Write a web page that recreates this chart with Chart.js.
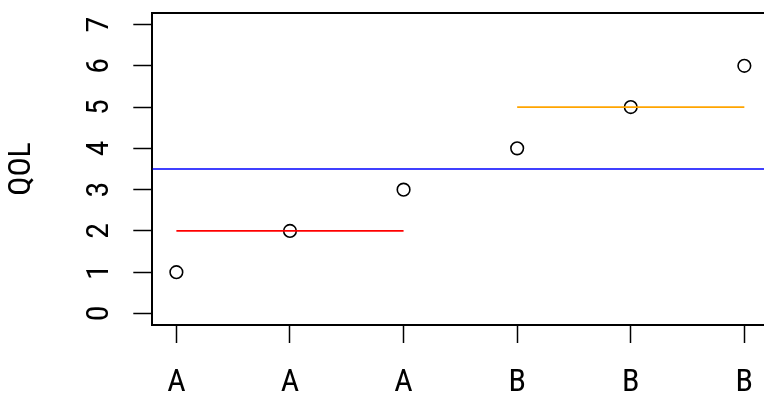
<!DOCTYPE html>
<html>
<head>
<meta charset="utf-8">
<script src="https://cdn.jsdelivr.net/npm/chart.js@4"></script>
<style>
  html, body { margin: 0; padding: 0; background: #fff; overflow: hidden; }
  #myChart { display: block; }
</style>
</head>
<body>
<canvas id="myChart" width="764" height="397"></canvas>
<script>
// data
const groups = ['A', 'A', 'A', 'B', 'B', 'B'];
const positions = [1, 2, 3, 4, 5, 6];
const qol = [1, 2, 3, 4, 5, 6];
const groupStart = [1, 4];
const groupEnd = [3, 6];
const groupMeans = [2, 5];
const overallMean = 3.5;
const yTicks = [0, 1, 2, 3, 4, 5, 6, 7];

const FONT = "'Roboto Condensed', 'DejaVu Sans Condensed', sans-serif";

// top edge of the R box (right edge falls outside the picture)
const boxTop = {
  id: 'boxTop',
  afterDraw(chart) {
    const {ctx, chartArea} = chart;
    ctx.save();
    ctx.strokeStyle = '#000';
    ctx.lineWidth = 2;
    ctx.beginPath();
    ctx.moveTo(chartArea.left, chartArea.top);
    ctx.lineTo(chart.width, chartArea.top);
    ctx.stroke();
    ctx.restore();
  }
};

new Chart('myChart', {
  type: 'scatter',
  data: {
    datasets: [
      {
        type: 'line',
        data: [{x: 0.79, y: overallMean}, {x: 6.18, y: overallMean}],
        borderColor: '#0000ff',
        borderWidth: 1.6,
        pointRadius: 0
      },
      {
        type: 'line',
        data: [{x: groupStart[0], y: groupMeans[0]}, {x: groupEnd[0], y: groupMeans[0]}],
        borderColor: '#ff0000',
        borderWidth: 1.6,
        pointRadius: 0
      },
      {
        type: 'line',
        data: [{x: groupStart[1], y: groupMeans[1]}, {x: groupEnd[1], y: groupMeans[1]}],
        borderColor: '#ffa500',
        borderWidth: 1.6,
        pointRadius: 0
      },
      {
        data: positions.map((p, i) => ({x: p, y: qol[i]})),
        borderColor: '#000',
        backgroundColor: 'rgba(0,0,0,0)',
        borderWidth: 1.6,
        pointRadius: 6.3,
        pointHoverRadius: 6.3
      }
    ]
  },
  options: {
    responsive: false,
    animation: false,
    events: [],
    layout: { autoPadding: false, padding: { top: 13, right: 0, bottom: 0, left: 0 } },
    plugins: {
      legend: { display: false },
      tooltip: { enabled: false }
    },
    scales: {
      x: {
        type: 'linear',
        min: 0.788,
        max: 6.173,
        afterBuildTicks: scale => { scale.ticks = positions.map(v => ({value: v})); },
        afterFit: scale => {
          scale.height = 72;
          scale.paddingLeft = 0;
          scale.paddingRight = 0;
        },
        grid: { drawOnChartArea: false, tickLength: 18, tickColor: '#000', tickWidth: 1.5 },
        border: { color: '#000', width: 2 },
        ticks: {
          color: '#000',
          padding: 21,
          maxRotation: 0,
          autoSkip: false,
          font: { family: FONT, size: 32 },
          callback: v => groups[positions.indexOf(v)]
        }
      },
      y: {
        min: -0.28,
        max: 7.28,
        afterBuildTicks: scale => { scale.ticks = yTicks.map(v => ({value: v})); },
        afterFit: scale => {
          scale.width = 152.3;
          scale.paddingTop = 0;
          scale.paddingBottom = 0;
        },
        grid: { drawOnChartArea: false, tickLength: 19, tickColor: '#000', tickWidth: 1.5 },
        border: { color: '#000', width: 2 },
        title: {
          display: true,
          text: 'QOL',
          color: '#000',
          font: { family: FONT, size: 32 },
          padding: { top: 3, bottom: 4 }
        },
        ticks: {
          color: '#000',
          minRotation: 90,
          maxRotation: 90,
          crossAlign: 'center',
          padding: 25,
          font: { family: FONT, size: 32 }
        }
      }
    }
  },
  plugins: [boxTop]
});
</script>
</body>
</html>
